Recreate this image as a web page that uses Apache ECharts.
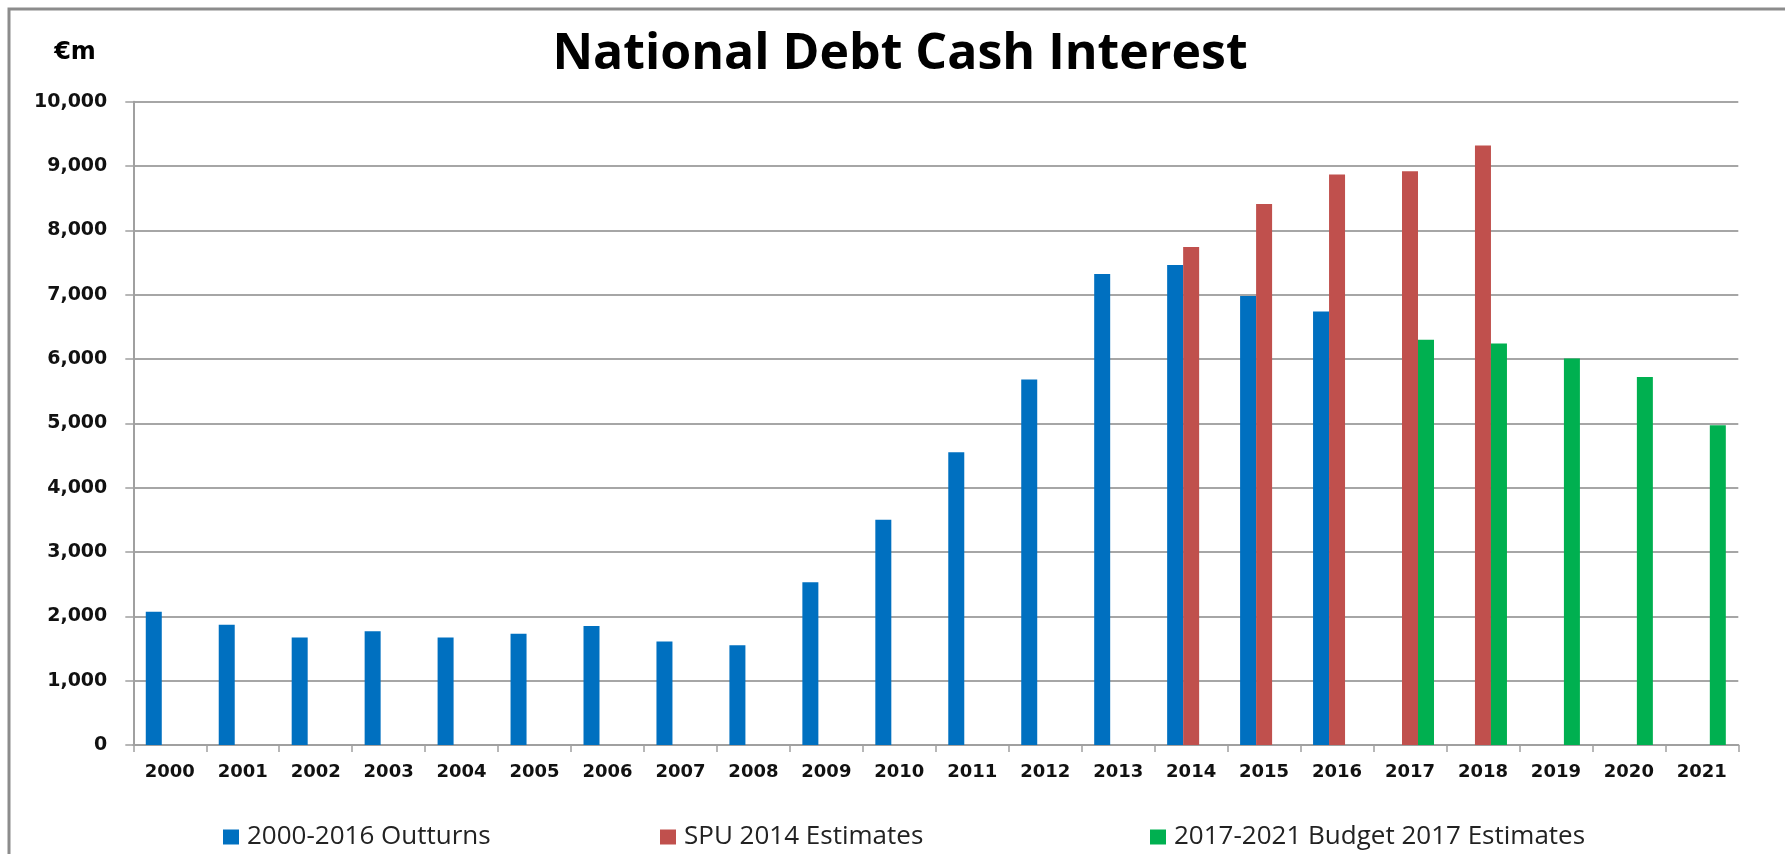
<!DOCTYPE html>
<html>
<head>
<meta charset="utf-8">
<script src="https://cdn.jsdelivr.net/npm/echarts@6/dist/echarts.min.js"></script>
<style>
html,body{margin:0;padding:0;background:#fff;}
#chart{width:1785px;height:854px;}
</style>
</head>
<body>
<div id="chart"></div>
<script>
const categories = ['2000','2001','2002','2003','2004','2005','2006','2007','2008','2009','2010','2011','2012','2013','2014','2015','2016','2017','2018','2019','2020','2021'];
const outturns = [2070,1870,1670,1770,1670,1730,1850,1610,1550,2530,3500,4550,5680,7320,7460,6980,6740,null,null,null,null,null];
const spu2014 = [null,null,null,null,null,null,null,null,null,null,null,null,null,null,7740,8410,8870,8920,9320,null,null,null];
const budget2017 = [null,null,null,null,null,null,null,null,null,null,null,null,null,null,null,null,null,6300,6240,6010,5720,4970];
const seriesNames = ['2000-2016 Outturns','SPU 2014 Estimates','2017-2021 Budget 2017 Estimates'];
const colors = ['#0070C0','#C0504D','#00B050'];

const chart = echarts.init(document.getElementById('chart'));
const legendText = {fontFamily:'Open Sans', fontSize:26, color:'#222', padding:[0,0,0,3]};
function legendAt(name, left){
  return {data:[name], left:left, top:824, padding:0, itemWidth:16, itemHeight:15, icon:'rect', textStyle:legendText, selectedMode:false, orient:'horizontal'};
}
chart.setOption({
  animation:false,
  backgroundColor:'#fff',
  graphic:[
    {type:'rect', shape:{x:9, y:9, width:1800, height:880}, style:{fill:'none', stroke:'#8c8c8c', lineWidth:3}, z:-1},
    {type:'text', x:900, y:55, style:{text:'National Debt Cash Interest', font:'bold 50px "Open Sans"', fill:'#000', textAlign:'center', textVerticalAlign:'middle'}},
    {type:'text', x:75, y:53, style:{text:'€m', font:'bold 24px "DejaVu Sans"', fill:'#000', textAlign:'center', textVerticalAlign:'middle'}}
  ],
  legend:[
    legendAt(seriesNames[0], 223),
    legendAt(seriesNames[1], 660),
    legendAt(seriesNames[2], 1150)
  ],
  grid:{left:133.3, right:46.7, top:101.7, bottom:109, containLabel:false},
  xAxis:{
    type:'category', data:categories,
    axisLine:{lineStyle:{color:'#a0a0a0', width:2}},
    axisTick:{show:true, length:7, alignWithLabel:false, lineStyle:{color:'#a0a0a0', width:1.5}},
    axisLabel:{fontFamily:'DejaVu Sans', fontWeight:'bold', fontSize:18, color:'#111', margin:18, interval:0}
  },
  yAxis:{
    type:'value', min:0, max:10000, interval:1000,
    axisLine:{show:true, lineStyle:{color:'#a0a0a0', width:2}},
    axisTick:{show:true, length:8, lineStyle:{color:'#a0a0a0', width:1.5}},
    splitLine:{lineStyle:{color:'#a6a6a6', width:2}},
    axisLabel:{fontFamily:'DejaVu Sans', fontWeight:'bold', fontSize:19, color:'#111', margin:26,
      formatter:function(v){return v.toLocaleString('en-US');}}
  },
  series:[
    {name:seriesNames[0], type:'bar', data:outturns, barWidth:16, barGap:'0%', itemStyle:{color:colors[0]}},
    {name:seriesNames[1], type:'bar', data:spu2014, barWidth:16, barGap:'0%', itemStyle:{color:colors[1]}},
    {name:seriesNames[2], type:'bar', data:budget2017, barWidth:16, barGap:'0%', itemStyle:{color:colors[2]}}
  ]
});
</script>
</body>
</html>
